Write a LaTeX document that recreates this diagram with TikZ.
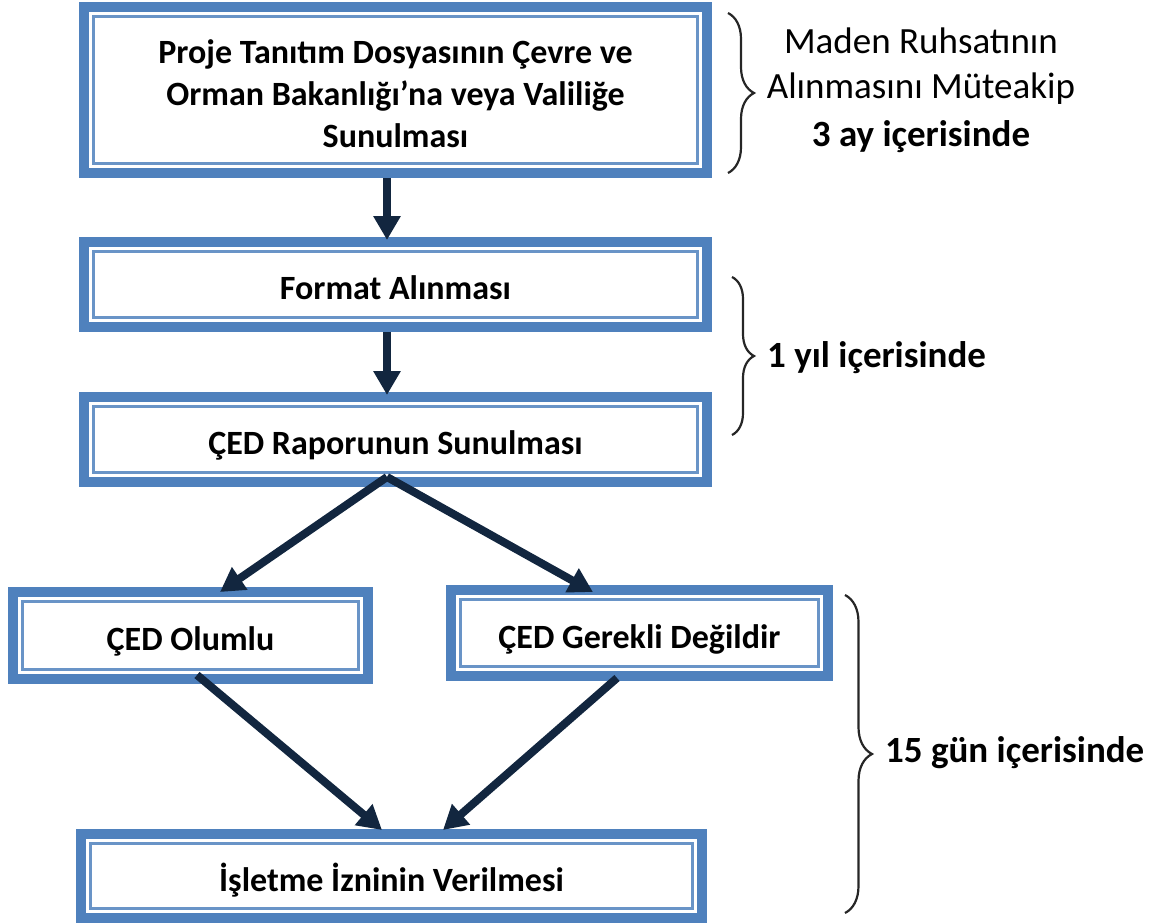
\documentclass[tikz,border=0pt]{standalone}
\usepackage{fontspec}
\setmainfont{Carlito}
\usetikzlibrary{arrows.meta,decorations.pathreplacing,calc}
\definecolor{boxblue}{HTML}{4F81BD}
\definecolor{arrnavy}{HTML}{12263F}
\tikzset{
  flowbox/.style={draw=boxblue, line width=10pt, fill=white, outer sep=0pt, inner sep=0pt,
    font=\fontsize{34}{42}\selectfont\bfseries, text height=30pt, text depth=0pt},
  innerframe/.style={draw=boxblue!85, line width=2.5pt},
  flowarrow/.style={draw=arrnavy, line width=8pt, -{Triangle[width=26pt,length=24pt]}},
  timebrace/.style={decorate, decoration={brace, amplitude=#1}, line width=2.2pt, draw=black!85},
  sidetext/.style={font=\fontsize{37}{45}\selectfont, inner sep=0pt, anchor=base},
  sidebold/.style={font=\fontsize{37}{45}\selectfont\bfseries, inner sep=0pt, anchor=base west}
}
\begin{document}
\begin{tikzpicture}[x=1pt, y=-1pt]
\useasboundingbox (0,0) rectangle (1149,924);
% boxes
\node[flowbox, minimum width=623pt, minimum height=166pt, text height=0pt, text depth=54pt] (a) at (395.5,90)
  {\begin{tabular}[t]{@{}c@{}}Proje Tanıtım Dosyasının Çevre ve\\Orman Bakanlığı’na veya Valiliğe\\Sunulması\end{tabular}};
\node[flowbox, minimum width=623pt, minimum height=85pt] (b) at (395.5,284.5) {Format Alınması};
\node[flowbox, minimum width=623pt, minimum height=85pt] (c) at (395.5,439.5) {ÇED Raporunun Sunulması};
\node[flowbox, minimum width=355pt, minimum height=87pt] (d) at (190.5,635.5) {ÇED Olumlu};
\node[flowbox, minimum width=377pt, minimum height=86pt] (e) at (639.5,633) {ÇED Gerekli Değildir};
\node[flowbox, minimum width=621pt, minimum height=84pt] (f) at (391.5,876) {İşletme İzninin Verilmesi};
\foreach \n in {a,b,c,d,e,f}
  \draw[innerframe] ($(\n.north west)+(9.5,9.5)$) rectangle ($(\n.south east)+(-9.5,-9.5)$);
% arrows
\draw[flowarrow] ([xshift=-8.5pt,yshift=-5pt]a.south) -- ([xshift=-8.5pt,yshift=2pt]b.north);
\draw[flowarrow] ([xshift=-8.5pt,yshift=-5pt]b.south) -- ([xshift=-8.5pt,yshift=2pt]c.north);
\draw[flowarrow] ([xshift=-8.5pt,yshift=5pt]c.south) -- ([xshift=29.5pt]d.north);
\draw[flowarrow] ([xshift=-8.5pt,yshift=5pt]c.south) -- ([xshift=-46.5pt,yshift=-2pt]e.north);
\draw[flowarrow] ([xshift=6.5pt,yshift=4pt]d.south) -- ([xshift=-9.5pt,yshift=4pt]f.north);
\draw[flowarrow] ([xshift=-22.5pt,yshift=-2pt]e.south) -- ([xshift=51.5pt,yshift=4pt]f.north);
% braces
\draw[timebrace=26pt] (728,13) -- (728,173);
\draw[timebrace=22pt] (732,277) -- (732,435);
\draw[timebrace=27pt] (845,595) -- (845,913);
% side texts
\node[sidetext] (t1) at (921,53) {\begin{tabular}[t]{@{}c@{}}Maden Ruhsatının\\Alınmasını Müteakip\\[3pt]\textbf{3 ay içerisinde}\end{tabular}};
\node[sidebold] (t2) at (767,367) {1 yıl içerisinde};
\node[sidebold] (t3) at (885,762) {15 gün içerisinde};
\end{tikzpicture}
\end{document}
